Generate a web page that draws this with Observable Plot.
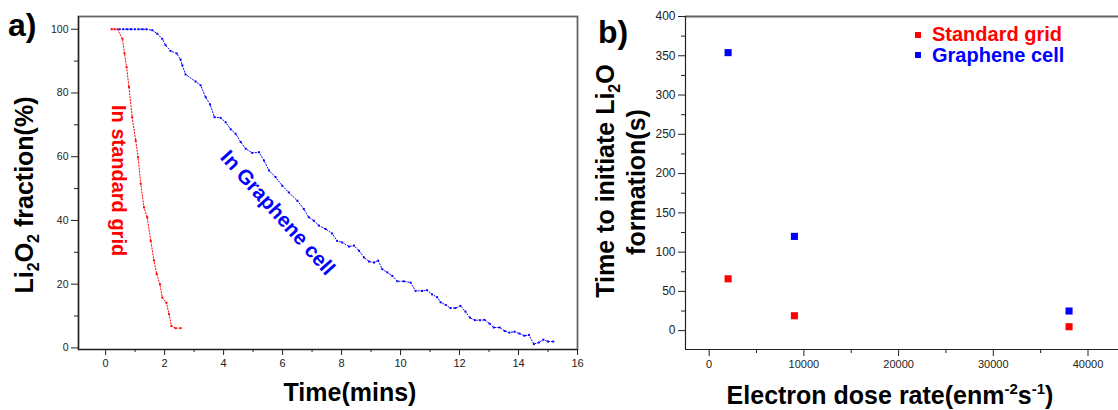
<!DOCTYPE html>
<html><head><meta charset="utf-8">
<script src="https://cdn.jsdelivr.net/npm/d3@7"></script>
<script src="https://cdn.jsdelivr.net/npm/@observablehq/plot@0.6"></script>
<style>
html,body{margin:0;padding:0;background:#fff;}
#wrap{position:relative;width:1118px;height:410px;overflow:hidden;font-family:"Liberation Sans",Arial,sans-serif;}
#wrap > svg, #wrap > figure{position:absolute;top:0;margin:0;}
</style></head><body><div id="wrap"></div>
<script>
// ---- Panel a data: Li2O2 fraction (%) vs time (mins)
const standardTime = [0.2,0.3,0.4,0.57,0.64,0.71,0.79,0.9,1.02,1.1,1.19,1.3,1.41,1.53,1.64,1.73,1.84,1.92,2.06,2.15,2.23,2.37,2.54];
const standardFraction = [100,100,100,97,92.4,88.1,81.9,72.4,65.1,59.8,51.5,44.1,41,33.6,27.4,23.2,20,15.8,14.2,10.6,6.9,6.2,6.2];
const grapheneTime = [0.47,0.6,0.73,0.86,0.99,1.12,1.25,1.38,1.58,1.75,1.92,2.03,2.2,2.41,2.54,2.6,2.71,3.05,3.22,3.39,3.54,3.69,3.9,4.07,4.24,4.41,4.58,4.75,4.97,5.2,5.37,5.54,5.76,5.99,6.21,6.5,6.72,6.89,7.06,7.23,7.46,7.68,7.85,8.02,8.25,8.42,8.59,8.76,8.93,9.1,9.24,9.38,9.55,9.72,9.89,10.11,10.34,10.51,10.73,10.9,11.07,11.24,11.36,11.53,11.69,11.86,12.03,12.2,12.35,12.52,12.69,12.85,13.02,13.16,13.36,13.53,13.69,13.86,14.03,14.2,14.35,14.52,14.69,14.84,15.0,15.18];
const grapheneFraction = [100,100,100,100,100,100,100,100,99.7,98.6,97,95,93.2,92.4,90.5,88.7,85.8,83.6,82.4,78.7,76.4,72.4,72.2,70.8,68.6,67.2,64.6,62.5,61.2,61.4,58.8,55.7,53.6,50.9,48.8,46.2,43.6,41,39.9,38.4,37.3,35.9,33.6,33.1,31.8,32.1,30.5,28.4,27.1,26.8,27.4,24.7,23.7,22.6,20.9,20.9,20.5,17.9,17.9,18.1,16.8,15.9,14.3,13.5,12.5,12.5,13.2,11.4,9.5,8.7,8.7,8.8,7.6,6.4,6.4,5.3,4.8,5.1,4.5,3.8,4.1,1.2,1.7,2.6,2.0,2.0];
const xTicksA = [0,2,4,6,8,10,12,14,16];
const xMinorA = [1,3,5,7,9,11,13,15];
const yTicksA = [0,20,40,60,80,100];
const yMinorA = [10,30,50,70,90];

// ---- Panel b data: time to initiate Li2O formation (s) vs dose rate
const doseRates = [2000, 9000, 38000];
const standardInitTime = [66, 19, 5];
const grapheneInitTime = [354, 120, 25];
const xTicksB = [0,10000,20000,30000,40000];
const xMinorB = [5000,15000,25000,35000];
const yTicksB = [0,50,100,150,200,250,300,350,400];
const yMinorB = [25,75,125,175,225,275,325,375];

const RED = "#ff0000", BLUE = "#0000ff", INK = "#222";
const FONT = "'Liberation Sans', Arial, sans-serif";

const stdRows = standardTime.map((t,i)=>({t, v: standardFraction[i]}));
const grRows = grapheneTime.map((t,i)=>({t, v: grapheneFraction[i]}));

const plotA = Plot.plot({
  width: 590, height: 410,
  marginLeft: 78, marginRight: 13, marginTop: 16, marginBottom: 61,
  x: {domain: [-0.92, 16]},
  y: {domain: [-0.5, 104]},
  style: {fontFamily: FONT, background: "transparent", color: INK, overflow: "visible"},
  marks: [
    Plot.frame({stroke: "#666", strokeWidth: 1.8}),
    Plot.ruleX([-0.92], {stroke: INK, strokeWidth: 1.2}),
    Plot.ruleY([-0.5], {stroke: INK, strokeWidth: 1.2}),
    Plot.axisX({ticks: xTicksA, tickSize: 6, tickPadding: 4, fontSize: 11, label: null, tickFormat: d3.format("d")}),
    Plot.axisX({ticks: xMinorA, tickSize: 3, label: null, tickFormat: () => ""}),
    Plot.axisY({ticks: yTicksA, tickSize: 7, tickPadding: 3, fontSize: 10.5, label: null, tickFormat: d3.format("d")}),
    Plot.axisY({ticks: yMinorA, tickSize: 4, label: null, tickFormat: () => ""}),
    Plot.line(stdRows, {x: "t", y: "v", stroke: RED, strokeWidth: 1, strokeDasharray: "1.2,1.8"}),
    Plot.dot(stdRows, {x: "t", y: "v", fill: RED, symbol: "square", r: 1.1}),
    Plot.line(grRows, {x: "t", y: "v", stroke: BLUE, strokeWidth: 1, strokeDasharray: "1.2,1.8"}),
    Plot.dot(grRows, {x: "t", y: "v", fill: BLUE, symbol: "square", r: 1.1}),
    Plot.text([{t: 0.44, v: 52.5}], {x: "t", y: "v", text: () => "In standard grid", rotate: 90, fill: RED, fontSize: 20, fontWeight: "bold", textAnchor: "middle", lineAnchor: "middle"}),
    Plot.text([{t: 5.83, v: 42.4}], {x: "t", y: "v", text: () => "In Graphene cell", rotate: 48, fill: BLUE, fontSize: 20.5, fontWeight: "bold", textAnchor: "middle", lineAnchor: "middle"})
  ]
});

const stdB = doseRates.map((d,i)=>({d, s: standardInitTime[i]}));
const grB = doseRates.map((d,i)=>({d, s: grapheneInitTime[i]}));

const plotB = Plot.plot({
  width: 528, height: 410,
  marginLeft: 95, marginRight: 0, marginTop: 16, marginBottom: 61,
  x: {domain: [-2500, 43220]},
  y: {domain: [-24, 400]},
  style: {fontFamily: FONT, background: "transparent", color: INK, overflow: "visible"},
  marks: [
    Plot.ruleY([400], {stroke: "#666", strokeWidth: 1.8}),
    Plot.ruleX([-2500], {stroke: INK, strokeWidth: 1.2}),
    Plot.ruleY([-24], {stroke: INK, strokeWidth: 1.2}),
    Plot.axisX({ticks: xTicksB, tickSize: 7, tickPadding: 4, fontSize: 11, label: null, tickFormat: d3.format("d")}),
    Plot.axisX({ticks: xMinorB, tickSize: 4, label: null, tickFormat: () => ""}),
    Plot.axisY({ticks: yTicksB, tickSize: 7, tickPadding: 3, fontSize: 12, label: null, tickFormat: d3.format("d")}),
    Plot.axisY({ticks: yMinorB, tickSize: 4, label: null, tickFormat: () => ""}),
    Plot.dot(stdB, {x: "d", y: "s", fill: RED, symbol: "square", r: 4}),
    Plot.dot(grB, {x: "d", y: "s", fill: BLUE, symbol: "square", r: 4})
  ]
});

const wrap = document.getElementById("wrap");
plotA.style.left = "0px";
plotB.style.left = "590px";
wrap.appendChild(plotA);
wrap.appendChild(plotB);

// overlay: titles, panel labels, legend
const ns = "http://www.w3.org/2000/svg";
const ov = document.createElementNS(ns, "svg");
ov.setAttribute("width", 1118); ov.setAttribute("height", 410);
ov.style.position = "absolute"; ov.style.left = "0px"; ov.style.top = "0px";
ov.style.fontFamily = FONT; ov.style.fontWeight = "bold";
ov.innerHTML = `
  <text x="8" y="36" font-size="32" fill="#000">a)</text>
  <text x="598" y="43" font-size="32" fill="#000">b)</text>
  <g transform="translate(33,195) rotate(-90)"><text text-anchor="middle" font-size="25" fill="#000">Li<tspan dy="6" font-size="16">2</tspan><tspan dy="-6">O</tspan><tspan dy="6" font-size="16">2</tspan><tspan dy="-6"> fraction(%)</tspan></text></g>
  <text x="350" y="401" text-anchor="middle" font-size="25" fill="#000">Time(mins)</text>
  <g transform="translate(614,181) rotate(-90)"><text text-anchor="middle" font-size="25" fill="#000">Time to initiate Li<tspan dy="6" font-size="16">2</tspan><tspan dy="-6">O</tspan></text></g>
  <g transform="translate(645,182) rotate(-90)"><text text-anchor="middle" font-size="25" fill="#000">formation(s)</text></g>
  <text x="890" y="404" text-anchor="middle" font-size="25" fill="#000">Electron dose rate(enm<tspan dy="-10" font-size="15">-2</tspan><tspan dy="10">s</tspan><tspan dy="-10" font-size="15">-1</tspan><tspan dy="10">)</tspan></text>
`;
wrap.appendChild(ov);

// legend (colours from the series)
const legendItems = [["Standard grid", RED], ["Graphene cell", BLUE]];
legendItems.forEach(([name, col], i) => {
  const g = document.createElementNS(ns, "g");
  g.innerHTML = `<rect x="915" y="${32 + i*20}" width="6" height="6" fill="${col}"></rect>
    <text x="932" y="${41 + i*21}" font-size="20" fill="${col}">${name}</text>`;
  ov.appendChild(g);
});
</script></body></html>
